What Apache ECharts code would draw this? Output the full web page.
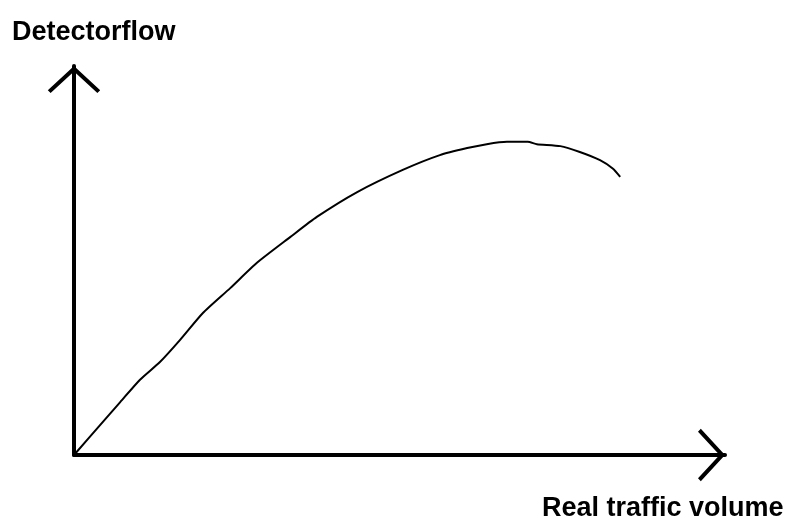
<!DOCTYPE html>
<html>
<head>
<meta charset="utf-8">
<script src="https://cdn.jsdelivr.net/npm/echarts@6/dist/echarts.min.js"></script>
<style>
  html, body { margin: 0; padding: 0; background: #fff; }
  #chart { width: 793px; height: 520px; }
</style>
</head>
<body>
<div id="chart"></div>
<script>
// real traffic volume (x) vs detector flow (y), arbitrary units 0..100
const volume = [0, 4.0, 7.1, 10.1, 13.2, 16.3, 19.8, 24.0, 28.1, 33.2, 37.3, 43.5, 50.5, 56.2, 60.4, 63.4, 66.5, 69.7, 71.1, 74.7, 77.7, 80.8, 82.8, 83.9]
const detector = [0, 7.7, 13.6, 19.3, 23.9, 29.6, 36.5, 42.9, 49.4, 56.0, 61.2, 67.6, 73.3, 77.1, 78.9, 79.9, 80.5, 80.5, 79.9, 79.4, 77.9, 75.8, 73.6, 71.5]
const xName = 'Real traffic volume'
const yName = 'Detectorflow'

// open chevron arrow head, pointing up in its own frame
const chevron = 'path://M26 0 L52 24 L49.2 26.8 L26 5.4 L2.8 26.8 L0 24 Z'

const chart = echarts.init(document.getElementById('chart'))
const axisLine = {
  show: true,
  symbol: ['none', chevron],
  symbolSize: [53, 27],
  symbolOffset: [0, -13.5],
  lineStyle: { color: '#000', width: 4 }
}
chart.setOption({
  animation: false,
  grid: { left: 74, right: 68, top: 66, bottom: 65 },
  xAxis: {
    type: 'value',
    min: 0,
    max: 100,
    axisLine: axisLine,
    axisTick: { show: false },
    axisLabel: { show: false },
    splitLine: { show: false }
  },
  yAxis: {
    type: 'value',
    min: 0,
    max: 100,
    axisLine: axisLine,
    axisTick: { show: false },
    axisLabel: { show: false },
    splitLine: { show: false }
  },
  graphic: [
    {
      type: 'text',
      left: 12,
      top: 19,
      style: { text: yName, font: 'bold 27px "Liberation Sans", Arial, sans-serif', fill: '#000' }
    },
    {
      type: 'text',
      left: 542,
      top: 495,
      style: { text: xName, font: 'bold 27px "Liberation Sans", Arial, sans-serif', fill: '#000' }
    }
  ],
  series: [
    {
      type: 'line',
      data: volume.map((v, i) => [v, detector[i]]),
      symbol: 'none',
      smooth: 0.2,
      lineStyle: { color: '#000', width: 2 }
    }
  ]
})
</script>
</body>
</html>
